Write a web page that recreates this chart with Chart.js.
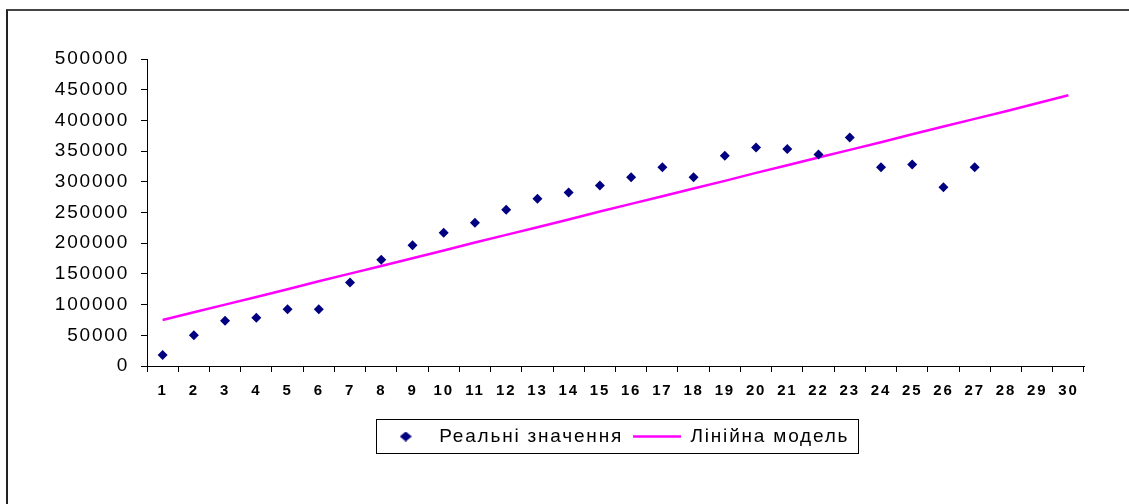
<!DOCTYPE html>
<html>
<head>
<meta charset="utf-8">
<script src="https://cdn.jsdelivr.net/npm/chart.js@4.4.0/dist/chart.umd.min.js"></script>
<style>
html, body { margin: 0; padding: 0; background: #fff; }
#wrap { position: relative; width: 1129px; height: 504px; }
#frame { position: absolute; left: 6px; top: 9px; right: 0; bottom: 0;
         border-top: 2px solid #444; border-left: 2px solid #222; pointer-events: none; }
</style>
</head>
<body>
<div id="wrap">
  <canvas id="chart" width="1129" height="504"></canvas>
  <div id="frame"></div>
</div>
<script>
// Дані з графіка
const categories = ['1','2','3','4','5','6','7','8','9','10','11','12','13','14','15',
                    '16','17','18','19','20','21','22','23','24','25','26','27','28','29','30'];
const realValues = [18000, 50000, 73500, 78500, 92500, 92500, 136000, 173000, 196500, 217000,
                    233500, 254500, 272500, 282500, 294000, 307500, 323500, 307500, 342500, 356000,
                    353500, 344500, 372000, 323500, 328000, 291000, 323500];
const modelValues = [75000, 87500, 100000, 112500, 125000, 138000, 150500, 163000, 175500, 188000,
                     201000, 213500, 226000, 238500, 251500, 264000, 276500, 289000, 301500, 314500,
                     327000, 339500, 352000, 364500, 377500, 390000, 402500, 415000, 428000, 441000];
const yMin = 0;
const yMax = 500000;
const yStep = 50000;

const fontFamily = '"Liberation Sans", Arial, sans-serif';

// Маркер легенди (ромб)
function makeDiamond() {
    const c = document.createElement('canvas');
    c.width = 12; c.height = 10;
    const g = c.getContext('2d');
    g.fillStyle = '#000080';
    g.beginPath();
    g.moveTo(6, 0); g.lineTo(12, 5); g.lineTo(6, 10); g.lineTo(0, 5);
    g.closePath();
    g.fill();
    return c;
}
const diamondIcon = makeDiamond();

// Розрідження літер, як у старому Excel
const spacingPlugin = {
    id: 'spacing',
    beforeUpdate(chart) { chart.ctx.letterSpacing = '1.8px'; },
    beforeDraw(chart) { chart.ctx.letterSpacing = '1.8px'; }
};

// Рамка навколо легенди
const legendBox = {
    id: 'legendBox',
    afterDraw(chart) {
        const boxes = chart.legend.legendHitBoxes;
        if (!boxes || !boxes.length) return;
        const ctx = chart.ctx;
        const l = Math.min(...boxes.map(b => b.left)) - 6;
        const r = Math.max(...boxes.map(b => b.left + b.width)) + 8;
        const t = boxes[0].top - 8;
        const b = boxes[0].top + boxes[0].height + 7;
        ctx.save();
        ctx.strokeStyle = '#000';
        ctx.lineWidth = 1;
        ctx.strokeRect(Math.round(l) + 0.5, Math.round(t) + 0.5, Math.round(r - l), Math.round(b - t));
        ctx.restore();
    }
};

const ctx = document.getElementById('chart').getContext('2d');
const chart = new Chart(ctx, {
    type: 'line',
    data: {
        labels: categories,
        datasets: [{
            label: 'Реальні значення',
            data: realValues,
            showLine: false,
            pointStyle: 'rectRot',
            pointRadius: 5,
            pointBackgroundColor: '#000080',
            pointBorderColor: '#000080',
            pointBorderWidth: 0,
            borderColor: '#000080',
            backgroundColor: '#000080'
        }, {
            label: 'Лінійна модель',
            data: modelValues,
            borderColor: '#ff00ff',
            borderWidth: 2.5,
            pointRadius: 0,
            fill: false,
            tension: 0
        }]
    },
    options: {
        responsive: false,
        animation: false,
        layout: { padding: { top: 59, right: 45, bottom: 48, left: 0 } },
        plugins: {
            tooltip: { enabled: false },
            legend: {
                position: 'bottom',
                fullSize: false,
                labels: {
                    usePointStyle: true,
                    pointStyleWidth: 48,
                    boxHeight: 10,
                    padding: 10,
                    color: '#000',
                    font: { family: fontFamily, size: 19 },
                    generateLabels() {
                        return [{
                            text: 'Реальні значення', datasetIndex: 0, hidden: false,
                            pointStyle: diamondIcon, fillStyle: '#000080', strokeStyle: '#000080', lineWidth: 0
                        }, {
                            text: 'Лінійна модель', datasetIndex: 1, hidden: false,
                            pointStyle: 'line', fillStyle: '#ff00ff', strokeStyle: '#ff00ff', lineWidth: 2.5
                        }];
                    }
                }
            }
        },
        scales: {
            x: {
                type: 'category',
                offset: true,
                grid: { offset: true, drawOnChartArea: false, tickLength: 6, color: '#000', lineWidth: 1 },
                border: { color: '#000', width: 1 },
                ticks: {
                    color: '#000', autoSkip: false, maxRotation: 0, padding: 10,
                    font: { family: fontFamily, size: 15, weight: 'bold' }
                },
                afterFit(scale) { scale.height = 51; }
            },
            y: {
                min: yMin,
                max: yMax,
                grid: { drawOnChartArea: false, tickLength: 6, color: '#000', lineWidth: 1 },
                border: { color: '#000', width: 1 },
                ticks: {
                    stepSize: yStep, color: '#000', padding: 12,
                    font: { family: fontFamily, size: 19 },
                    callback: value => String(value)
                },
                afterFit(scale) { scale.width = 147; }
            }
        }
    },
    plugins: [spacingPlugin, legendBox]
});
</script>
</body>
</html>
